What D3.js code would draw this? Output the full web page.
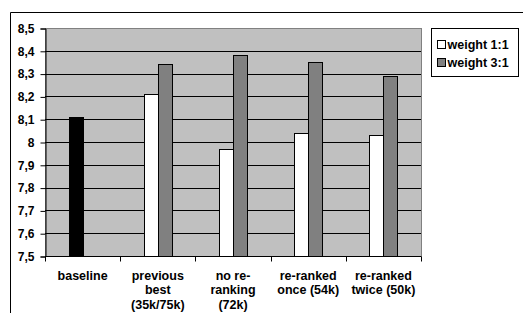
<!DOCTYPE html>
<html>
<head>
<meta charset="utf-8">
<script src="https://cdn.jsdelivr.net/npm/d3@7/dist/d3.min.js"></script>
<style>
  body { margin: 0; background: #fff; }
  text { font-family: Arial, "Liberation Sans", sans-serif; font-weight: bold; }
</style>
</head>
<body>
<svg id="chart" width="525" height="313"></svg>
<script>
var categories = [
  ["baseline"],
  ["previous", "best", "(35k/75k)"],
  ["no re-", "ranking", "(72k)"],
  ["re-ranked", "once (54k)"],
  ["re-ranked", "twice (50k)"]
];
var weight11 = [8.11, 8.21, 7.97, 8.04, 8.03];
var weight31 = [null, 8.34, 8.38, 8.35, 8.29];
var seriesNames = ["weight 1:1", "weight 3:1"];
var yTicks = [7.5, 7.6, 7.7, 7.8, 7.9, 8, 8.1, 8.2, 8.3, 8.4, 8.5];

var svg = d3.select("#chart");
var plotL = 45, plotT = 28, plotR = 421, plotB = 256;

// outer chart frame
svg.append("line").attr("x1", 10.5).attr("y1", 12.5).attr("x2", 10.5).attr("y2", 313)
  .attr("stroke", "#000");
svg.append("line").attr("x1", 10.5).attr("y1", 12.5).attr("x2", 523).attr("y2", 12.5)
  .attr("stroke", "#000");

var x = d3.scaleBand().domain(d3.range(categories.length)).range([plotL, plotR]);
var y = d3.scaleLinear().domain([7.5, 8.5]).range([plotB, plotT]);

svg.append("rect").attr("x", plotL + 0.5).attr("y", plotT + 0.5)
  .attr("width", plotR - plotL).attr("height", plotB - plotT)
  .attr("fill", "#c0c0c0").attr("stroke", "#808080");

// gridlines
svg.append("g").selectAll("line").data(yTicks.slice(1, -1)).enter().append("line")
  .attr("x1", plotL).attr("x2", plotR)
  .attr("y1", function(d) { return Math.round(y(d)) + 0.5; })
  .attr("y2", function(d) { return Math.round(y(d)) + 0.5; })
  .attr("stroke", "#000");

var barW = 14;
var bars = svg.append("g");
weight11.forEach(function(v, i) {
  var cx = Math.round(x(i) + x.bandwidth() / 2);
  bars.append("rect").attr("x", cx - barW + 0.5).attr("y", Math.round(y(v)) + 0.5)
    .attr("width", barW).attr("height", plotB - Math.round(y(v)))
    .attr("fill", i === 0 ? "#000" : "#fff").attr("stroke", "#000").attr("stroke-width", 1);
});
weight31.forEach(function(v, i) {
  if (v === null) return;
  var cx = Math.round(x(i) + x.bandwidth() / 2);
  bars.append("rect").attr("x", cx + 0.5).attr("y", Math.round(y(v)) + 0.5)
    .attr("width", barW).attr("height", plotB - Math.round(y(v)))
    .attr("fill", "#808080").attr("stroke", "#000").attr("stroke-width", 1);
});

// y axis
var yAxis = svg.append("g").attr("transform", "translate(" + (plotL + 0.5) + ",0.5)")
  .call(d3.axisLeft(y).tickValues(yTicks).tickSize(5).tickPadding(6)
    .tickFormat(function(d) { return String(d).replace(".", ","); }));
yAxis.select(".domain").attr("stroke", "#000");
yAxis.selectAll("text").attr("font-size", "12px").attr("fill", "#000")
  .attr("font-family", "Arial, 'Liberation Sans', sans-serif").attr("font-weight", "bold");

// x axis
var xAxis = svg.append("g").attr("transform", "translate(0," + (plotB + 0.5) + ")");
xAxis.append("line").attr("x1", plotL).attr("x2", plotR).attr("stroke", "#000");
xAxis.selectAll(".tk").data(d3.range(categories.length + 1)).enter().append("line")
  .attr("x1", function(d) { return Math.round(plotL + d * x.step()) + 0.5; })
  .attr("x2", function(d) { return Math.round(plotL + d * x.step()) + 0.5; })
  .attr("y1", 0).attr("y2", 5).attr("stroke", "#000");
categories.forEach(function(lines, i) {
  var t = xAxis.append("text").attr("text-anchor", "middle")
    .attr("font-size", "12.5px").attr("fill", "#000")
    .attr("x", x(i) + x.bandwidth() / 2).attr("y", 23);
  lines.forEach(function(s, j) {
    t.append("tspan").attr("x", x(i) + x.bandwidth() / 2).attr("dy", j === 0 ? 0 : 14.5).text(s);
  });
});

// legend
var lg = svg.append("g");
lg.append("rect").attr("x", 431.5).attr("y", 28.5).attr("width", 87).attr("height", 48)
  .attr("fill", "#fff").attr("stroke", "#000");
var legFill = ["#fff", "#808080"];
seriesNames.forEach(function(n, i) {
  lg.append("rect").attr("x", 437.5).attr("y", 40.5 + i * 18).attr("width", 8).attr("height", 8)
    .attr("fill", legFill[i]).attr("stroke", "#000");
  lg.append("text").attr("x", 447.5).attr("y", 49 + i * 18)
    .attr("font-size", "12.5px").attr("fill", "#000").text(n);
});
</script>
</body>
</html>
